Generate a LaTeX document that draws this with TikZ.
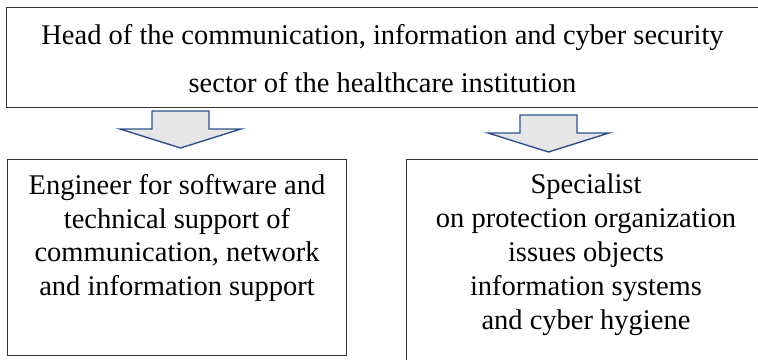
\documentclass[tikz,border=0pt]{standalone}
\usepackage{fontspec}
\setmainfont{Liberation Serif}
\usetikzlibrary{positioning}

\definecolor{arrowblue}{RGB}{47,82,143}
\definecolor{arrowfill}{RGB}{230,230,230}

\begin{document}
\begin{tikzpicture}[
  x=1pt, y=-1pt,
  every node/.style={font=\fontsize{28.5}{33.8}\selectfont},
  unitbox/.style={rectangle, draw=black!80, line width=1pt, anchor=north west,
    inner sep=0pt},
  boxtext/.style={align=center, inner sep=0pt},
  blockarrow/.style={draw=arrowblue, fill=arrowfill, line width=1.4pt, line join=miter},
  pics/downarrow/.style={code={
    \draw[blockarrow] (-28.5,0) -- (28.5,0) -- (28.5,18) -- (60.5,18)
      -- (0,37) -- (-60.5,18) -- (-28.5,18) -- cycle;}}
]
\clip (0,0) rectangle (758,359);

% ===== HEAD =====
\node[unitbox, minimum width=760pt, minimum height=100pt] (head) at (6,7) {};
\node[boxtext, font=\fontsize{28.5}{48}\selectfont, below=17pt of head.north, xshift=-4pt] (headtxt)
  {Head of the communication, information and cyber security\\
   sector of the healthcare institution};

% ===== ARROWS =====
\coordinate (arrL) at (180.5,111);
\coordinate (arrR) at (548.5,115);
\pic at (arrL) {downarrow};
\pic at (arrR) {downarrow};

% ===== ENGINEER =====
\node[unitbox, minimum width=339pt, minimum height=196pt] (eng) at (7,159) {};
\node[boxtext, below=15pt of eng.north] (engtxt)
  {Engineer for software and\\
   technical support of\\
   communication, network\\
   and information support};

% ===== SPECIALIST =====
\node[unitbox, minimum width=370pt, minimum height=220pt] (spec) at (406,159) {};
\node[boxtext, below=15pt of spec.north west, xshift=180pt] (spectxt)
  {Specialist\\
   on protection organization\\
   issues objects\\
   information systems\\
   and cyber hygiene};
\end{tikzpicture}
\end{document}
